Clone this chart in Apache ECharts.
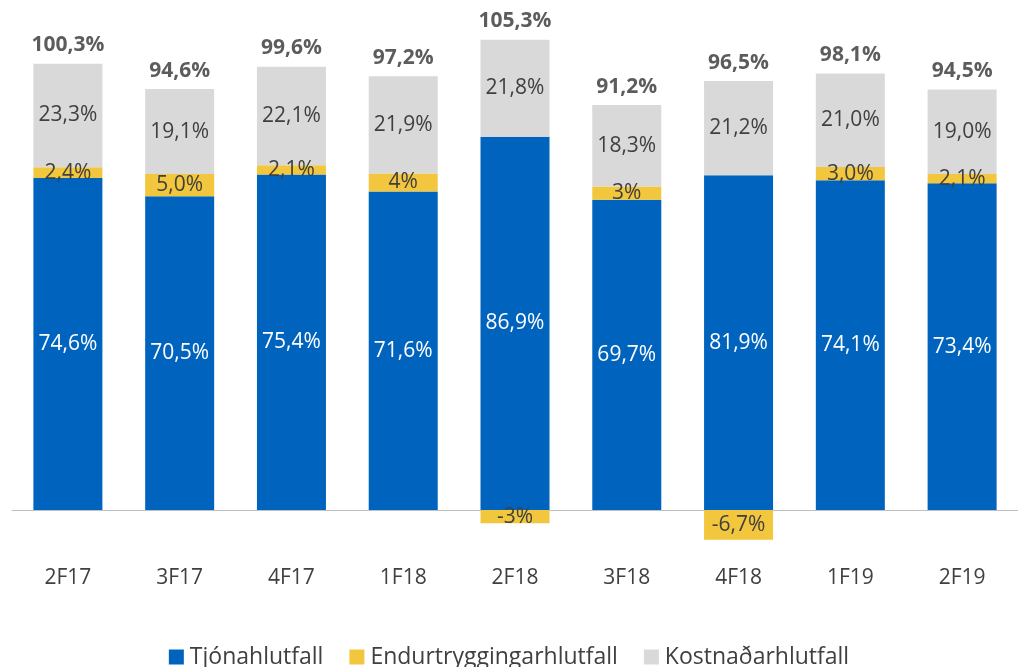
<!DOCTYPE html>
<html>
<head>
<meta charset="utf-8">
<script src="https://cdn.jsdelivr.net/npm/echarts@6/dist/echarts.min.js"></script>
<style>
  html, body { margin: 0; padding: 0; background: #fff; }
  #chart { width: 1018px; height: 667px; }
</style>
</head>
<body>
<div id="chart"></div>
<script>
// data
var categories = ['2F17', '3F17', '4F17', '1F18', '2F18', '3F18', '4F18', '1F19', '2F19'];
var tjonahlutfall = [74.6, 70.5, 75.4, 71.6, 86.9, 69.7, 81.9, 74.1, 73.4];
var endurtrygging = [2.4, 5.0, 2.1, 4, -3, 3, -6.7, 3.0, 2.1];
var kostnadur = [23.3, 19.1, 22.1, 21.9, 21.8, 18.3, 21.2, 21.0, 19.0];
var samsett = [100.3, 94.6, 99.6, 97.2, 105.3, 91.2, 96.5, 98.1, 94.5];
// labels as printed (some without decimals)
var endurLabels = ['2,4%', '5,0%', '2,1%', '4%', '-3%', '3%', '-6,7%', '3,0%', '2,1%'];

function pct(v) {
  return v.toFixed(1).replace('.', ',') + '%';
}

// in the original the blue bar is drawn net of a negative reinsurance ratio
var blueBars = [];
var topOfStack = [];
for (var i = 0; i < categories.length; i++) {
  var neg = Math.min(endurtrygging[i], 0);
  blueBars.push({ value: +(tjonahlutfall[i] + neg).toFixed(1), labelText: pct(tjonahlutfall[i]) });
  topOfStack.push(+(tjonahlutfall[i] + neg + Math.max(endurtrygging[i], 0) + kostnadur[i]).toFixed(1));
}

var FONT = '"Open Sans", "Liberation Sans", sans-serif';
var colors = ['#0064be', '#f2c63d', '#d9d9d9'];

var chart = echarts.init(document.getElementById('chart'));

var option = {
  animation: false,
  color: colors,
  grid: {
    left: 12,
    right: -6,
    top: 20.5,
    bottom: 112.5
  },
  xAxis: {
    type: 'category',
    data: categories,
    axisLine: { lineStyle: { color: '#bfbfbf', width: 1 } },
    axisTick: { show: false },
    axisLabel: {
      margin: 13,
      color: '#404040',
      fontFamily: FONT,
      fontSize: 21
    }
  },
  yAxis: {
    type: 'value',
    min: -10,
    max: 110,
    show: false,
    splitLine: { show: false }
  },
  legend: {
    top: 639,
    left: 'center',
    itemWidth: 15,
    itemHeight: 15,
    itemGap: 26,
    icon: 'rect',
    textStyle: { color: '#404040', fontFamily: FONT, fontSize: 23, lineHeight: 26, padding: [0, 0, 0, 1] },
    data: ['Tjónahlutfall', 'Endurtryggingarhlutfall', 'Kostnaðarhlutfall']
  },
  series: [
    {
      name: 'Tjónahlutfall',
      type: 'bar',
      stack: 'total',
      barWidth: 69,
      data: blueBars,
      label: {
        show: true,
        position: 'inside',
        color: '#ffffff',
        fontFamily: FONT,
        fontSize: 21,
        formatter: function (p) { return p.data.labelText; }
      }
    },
    {
      name: 'Endurtryggingarhlutfall',
      type: 'bar',
      stack: 'total',
      barWidth: 69,
      data: endurtrygging,
      label: {
        show: true,
        position: 'inside',
        color: '#404040',
        fontFamily: FONT,
        fontSize: 21,
        formatter: function (p) { return endurLabels[p.dataIndex]; }
      }
    },
    {
      name: 'Kostnaðarhlutfall',
      type: 'bar',
      stack: 'total',
      barWidth: 69,
      data: kostnadur,
      label: {
        show: true,
        position: 'inside',
        color: '#404040',
        fontFamily: FONT,
        fontSize: 21,
        formatter: function (p) { return pct(p.value); }
      }
    },
    {
      // combined ratio labels above each stack
      type: 'scatter',
      symbolSize: 0,
      data: topOfStack,
      silent: true,
      label: {
        show: true,
        position: 'top',
        distance: 8,
        color: '#333333',
        fontFamily: FONT,
        fontWeight: 'bold',
        fontSize: 21,
        formatter: function (p) { return pct(samsett[p.dataIndex]); }
      }
    }
  ]
};

chart.setOption(option);
</script>
</body>
</html>
